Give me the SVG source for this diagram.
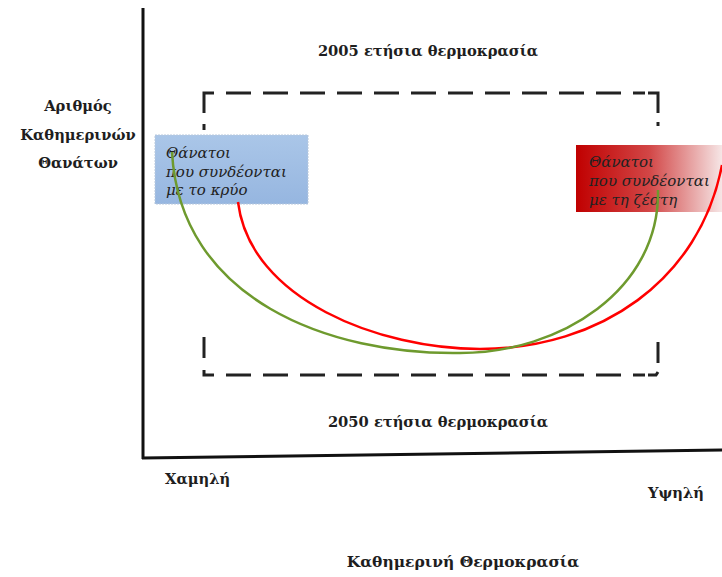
<svg xmlns="http://www.w3.org/2000/svg" width="722" height="577" viewBox="0 0 722 577">
<style>
.lbl{font-family:"DejaVu Serif","Liberation Serif",serif;font-weight:bold;font-size:14.7px;fill:#1e1e1e}
.box{font-family:"DejaVu Serif","Liberation Serif",serif;font-style:italic;font-size:15px;fill:#222}
.dash{fill:none;stroke:#222;stroke-width:3;stroke-dasharray:25 12}
.solid{fill:none;stroke:#222;stroke-width:3}
</style>
<defs>
<linearGradient id="gb" x1="0" y1="0" x2="0" y2="1">
<stop offset="0" stop-color="#aac6e8"/><stop offset="1" stop-color="#96b6e0"/>
</linearGradient>
<linearGradient id="gr" x1="0" y1="0" x2="1" y2="0">
<stop offset="0" stop-color="#c00000"/><stop offset="0.5" stop-color="#d24646"/><stop offset="1" stop-color="#f6e6e6"/>
</linearGradient>
</defs>
<rect width="722" height="577" fill="#fff"/>
<g id="axes">
<line x1="143" y1="8" x2="143" y2="459" stroke="#111" stroke-width="3"/>
<line x1="142" y1="458" x2="722" y2="450" stroke="#111" stroke-width="3"/>
</g>
<g id="frame2005">
<path class="solid" d="M204,113 V93 H214"/>
<path class="dash" d="M226,93 H645"/>
<path class="solid" d="M648,93 H658 V113"/>
<line x1="204" y1="124" x2="204" y2="130" stroke="#222" stroke-width="3"/>
<line x1="658" y1="122" x2="658" y2="126" stroke="#222" stroke-width="3"/>
</g>
<g id="frame2050">
<path class="solid" d="M204,337 V358"/>
<path class="solid" d="M204,370 V375 H214"/>
<path class="dash" d="M226,375 H645"/>
<path class="solid" d="M648,375 H656 L658,372"/>
<path class="solid" d="M658,342 V363"/>
</g>
<g id="cold">
<rect x="155" y="135" width="153" height="69" fill="url(#gb)" stroke="#b8c8dc" stroke-width="1" stroke-dasharray="2 1"/>
<text class="box" x="166" y="158">Θάνατοι</text>
<text class="box" x="166" y="177">που συνδέονται</text>
<text class="box" x="166" y="195">με το κρύο</text>
</g>
<g id="heat">
<rect x="576" y="145" width="146" height="67" fill="url(#gr)"/>
<text class="box" x="589" y="167">Θάνατοι</text>
<text class="box" x="589" y="186">που συνδέονται</text>
<text class="box" x="589" y="205">με τη ζέστη</text>
</g>
<g id="connectors">
<path d="M238,202 C250,300 380,349 480,349 C600,349 700,280 722,165" fill="none" stroke="#ff0000" stroke-width="2.5"/>
<path d="M172,152 C180,300 330,355 460,353 C560,353 660,290 658,190" fill="none" stroke="#6e9a2e" stroke-width="2.5"/>
</g>
<g id="labels">
<text class="lbl" x="78" y="111" text-anchor="middle">Αριθμός</text>
<text class="lbl" x="78" y="140" text-anchor="middle">Καθημερινών</text>
<text class="lbl" x="78" y="168" text-anchor="middle">Θανάτων</text>
<text class="lbl" x="428" y="56" text-anchor="middle">2005 ετήσια θερμοκρασία</text>
<text class="lbl" x="438" y="427" text-anchor="middle">2050 ετήσια θερμοκρασία</text>
<text class="lbl" x="165" y="484">Χαμηλή</text>
<text class="lbl" x="648" y="498">Υψηλή</text>
<text class="lbl" x="463" y="567" text-anchor="middle" style="font-size:15.5px">Καθημερινή Θερμοκρασία</text>
</g>
</svg>
